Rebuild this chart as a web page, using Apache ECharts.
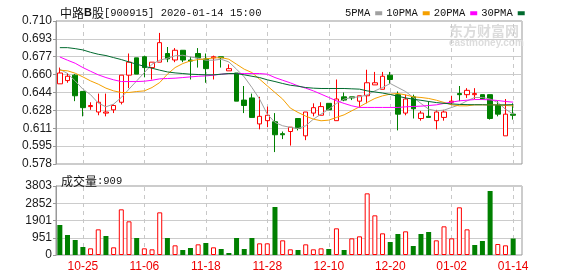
<!DOCTYPE html>
<html><head><meta charset="utf-8">
<script src="https://cdn.jsdelivr.net/npm/echarts@6/dist/echarts.min.js"></script>
<style>html,body{margin:0;padding:0;background:#fff}#c{width:578px;height:276px}</style>
</head><body><div id="c"></div>
<script>
const categories = ['10-22','10-23','10-24','10-25','10-28','10-29','10-30','10-31','11-01','11-04','11-05','11-06','11-07','11-08','11-11','11-12','11-13','11-14','11-15','11-18','11-19','11-20','11-21','11-22','11-25','11-26','11-27','11-28','11-29','12-02','12-03','12-04','12-05','12-06','12-09','12-10','12-11','12-12','12-13','12-16','12-17','12-18','12-19','12-20','12-23','12-24','12-25','12-26','12-27','12-30','12-31','01-02','01-03','01-06','01-07','01-08','01-09','01-10','01-13','01-14'];
const openP = [0.652,0.655,0.660,0.645,0.631,0.626,0.625,0.628,0.635,0.660,
0.676,0.677,0.667,0.672,0.680,0.674,0.683,0.674,0.680,0.675,
0.676,0.677,0.664,0.662,0.637,0.639,0.615,0.618,0.617,0.606,
0.608,0.620,0.604,0.625,0.623,0.634,0.618,0.640,0.640,0.636,
0.641,0.651,0.647,0.660,0.642,0.625,0.640,0.620,0.622,0.618,
0.621,0.635,0.643,0.642,0.642,0.642,0.642,0.632,0.604,0.624];
const closeP = [0.662,0.659,0.641,0.630,0.632,0.635,0.626,0.632,0.660,0.672,
0.661,0.667,0.672,0.690,0.675,0.683,0.674,0.673,0.676,0.666,
0.677,0.676,0.666,0.636,0.632,0.621,0.622,0.623,0.605,0.605,
0.612,0.611,0.626,0.630,0.631,0.628,0.638,0.637,0.639,0.641,
0.653,0.653,0.659,0.656,0.624,0.638,0.629,0.625,0.621,0.626,
0.626,0.636,0.642,0.646,0.643,0.638,0.620,0.624,0.624,0.623];
const lowP = [0.652,0.653,0.636,0.622,0.628,0.623,0.622,0.625,0.633,0.648,
0.661,0.658,0.656,0.672,0.672,0.672,0.672,0.656,0.667,0.653,
0.656,0.667,0.664,0.636,0.625,0.621,0.610,0.612,0.589,0.601,
0.595,0.609,0.600,0.622,0.623,0.628,0.618,0.636,0.637,0.630,
0.634,0.651,0.647,0.652,0.609,0.623,0.620,0.618,0.621,0.610,
0.618,0.633,0.636,0.639,0.638,0.638,0.619,0.622,0.604,0.619];
const highP = [0.667,0.662,0.661,0.645,0.635,0.643,0.643,0.633,0.660,0.680,
0.676,0.678,0.672,0.699,0.686,0.685,0.683,0.677,0.685,0.680,
0.678,0.677,0.670,0.662,0.650,0.643,0.640,0.631,0.625,0.608,
0.612,0.620,0.626,0.634,0.635,0.634,0.656,0.644,0.640,0.641,
0.665,0.663,0.663,0.663,0.645,0.642,0.642,0.627,0.636,0.628,
0.628,0.641,0.650,0.648,0.648,0.642,0.642,0.636,0.638,0.634];
const prevClose = 0.664;
const volume = [1653,1102,827,441,367,1414,1047,422,2517,1855,
937,367,312,2351,937,533,276,386,588,661,
422,331,110,937,331,937,643,643,2645,808,
312,276,588,312,367,331,1470,276,918,1029,
3398,2186,1194,716,1157,1304,496,1157,1268,808,
1580,918,2627,1414,551,772,3527,606,533,909];
const ma5 = [0.6655,0.6615,0.6547,0.6471,0.6420,0.6342,0.6308,0.6333,0.6394,0.6471,
0.6547,0.6624,0.6701,0.6738,0.6756,0.6778,0.6784,0.6768,0.6756,0.6738,
0.6738,0.6747,0.6722,0.6655,0.6584,0.6486,0.6379,0.6240,0.6164,0.6133,
0.6118,0.6108,0.6133,0.6194,0.6240,0.6286,0.6339,0.6379,0.6394,0.6400,
0.6418,0.6455,0.6486,0.6523,0.6486,0.6449,0.6394,0.6339,0.6286,0.6271,
0.6277,0.6302,0.6326,0.6363,0.6394,0.6394,0.6379,0.6348,0.6286,0.6240];
const ma10 = [0.6646,0.6640,0.6618,0.6584,0.6547,0.6517,0.6480,0.6455,0.6440,0.6440,
0.6449,0.6455,0.6486,0.6532,0.6609,0.6670,0.6707,0.6732,0.6744,0.6750,
0.6759,0.6762,0.6747,0.6701,0.6655,0.6624,0.6563,0.6501,0.6440,0.6379,
0.6296,0.6256,0.6222,0.6194,0.6179,0.6185,0.6210,0.6234,0.6271,0.6308,
0.6348,0.6385,0.6409,0.6425,0.6431,0.6418,0.6400,0.6394,0.6385,0.6369,
0.6348,0.6326,0.6317,0.6317,0.6326,0.6326,0.6326,0.6326,0.6320,0.6317];
const ma20 = [0.6768,0.6738,0.6710,0.6670,0.6636,0.6603,0.6578,0.6557,0.6541,0.6541,
0.6541,0.6544,0.6553,0.6566,0.6569,0.6572,0.6578,0.6584,0.6590,0.6593,
0.6600,0.6609,0.6615,0.6615,0.6615,0.6615,0.6615,0.6609,0.6578,0.6553,
0.6529,0.6501,0.6480,0.6455,0.6425,0.6394,0.6363,0.6339,0.6317,0.6302,
0.6302,0.6302,0.6302,0.6302,0.6302,0.6308,0.6311,0.6314,0.6320,0.6326,
0.6339,0.6351,0.6363,0.6369,0.6375,0.6375,0.6372,0.6366,0.6357,0.6351];
const ma30 = [0.6854,0.6854,0.6845,0.6833,0.6811,0.6793,0.6781,0.6762,0.6744,0.6722,
0.6701,0.6682,0.6664,0.6646,0.6630,0.6621,0.6615,0.6609,0.6606,0.6603,
0.6603,0.6609,0.6615,0.6615,0.6603,0.6590,0.6578,0.6557,0.6541,0.6523,
0.6507,0.6498,0.6486,0.6480,0.6477,0.6477,0.6477,0.6477,0.6474,0.6471,
0.6455,0.6445,0.6435,0.6422,0.6405,0.6390,0.6378,0.6368,0.6357,0.6347,
0.6340,0.6335,0.6330,0.6328,0.6327,0.6327,0.6325,0.6325,0.6326,0.6328];
const priceTicks = [0.578,0.5945,0.611,0.6275,0.644,0.6605,0.677,0.6935,0.710];
const priceTickLabels = ['0.578','0.595','0.611','0.628','0.644','0.660','0.677','0.693','0.710'];
const volTicks = [0,950.75,1901.5,2852.25,3803];
const volTickLabels = ['0','951','1901','2852','3803'];
const dateTickLabels = ['10-25','11-06','11-18','11-28','12-10','12-20','01-02','01-14'];
const maNames = ['5PMA','10PMA','20PMA','30PMA'];

const RED = '#ff0000', GREEN = '#008000';
const maColors = ['#a0a0a0','#f5a000','#ff00ff','#006a2e'];
const maData = [ma5, ma10, ma20, ma30];
function lab(ticks, labels){
  return v => { const i = ticks.findIndex(t => Math.abs(t - v) < 1e-6); return i >= 0 ? labels[i] : ''; };
}
const vMarkLine = {
  silent: true, z: 1, symbol: ['none','none'], label: {show: false},
  lineStyle: {type: [4,4], color: '#c8c8c8', width: 1},
  data: dateTickLabels.map(d => ({xAxis: d}))
};
const candleData = categories.map((_, i) => [openP[i], closeP[i], lowP[i], highP[i]]);
const volData = volume.map((v, i) => {
  const pc = i === 0 ? prevClose : closeP[i - 1];
  const up = closeP[i] >= pc;
  return {value: v, itemStyle: up ? {color: '#ffffff', borderColor: RED, borderWidth: 1} : {color: GREEN, borderColor: GREEN, borderWidth: 0}};
});
const monoFont = '"Liberation Mono", "Noto Sans CJK SC", monospace';
const cjkFont = '"Noto Sans CJK SC", sans-serif';
const chart = echarts.init(document.getElementById('c'), null, {renderer: 'canvas'});
chart.setOption({
  animation: false,
  backgroundColor: '#ffffff',
  title: [
    {left: 55, top: 2, text: '{c|中路}{b|B}{c|股}{a|[900915] 2020-01-14 15:00}',
     textStyle: {fontWeight: 'normal', rich: {
       c: {fontFamily: cjkFont, fontSize: 12, fontWeight: 'normal', color: '#111'},
       b: {fontFamily: 'Liberation Sans', fontWeight: 'bold', fontSize: 11, color: '#111'},
       a: {fontFamily: monoFont, fontSize: 10.5, fontWeight: 'normal', color: '#111'}}}},
    {left: 56, top: 170, text: '{c|成交量}{a|:' + volume[volume.length - 1] + '}',
     textStyle: {fontWeight: 'normal', rich: {
       c: {fontFamily: cjkFont, fontSize: 12, fontWeight: 'normal', color: '#111'},
       a: {fontFamily: monoFont, fontSize: 10.5, fontWeight: 'normal', color: '#111'}}}}
  ],
  legend: {
    data: maNames, left: 340, top: 3, align: 'right', icon: 'rect',
    itemWidth: 7, itemHeight: 4, itemGap: 4, selectedMode: false,
    textStyle: {fontFamily: monoFont, fontSize: 10.5, color: '#111', padding: [0,0,0,0]}
  },
  graphic: [
    {type: 'text', left: 449, top: 24, z: 0, silent: true, style: {text: '东方财富网', fill: '#dcdcdc', font: 'bold 14px "Noto Sans CJK SC"'}},
    {type: 'text', left: 449, top: 38, z: 0, silent: true, style: {text: 'eastmoney.com', fill: '#dcdcdc', font: 'bold 10px "Liberation Sans"'}}
  ],
  grid: [
    {left: 56, top: 21, width: 466, height: 143, show: true, borderColor: '#999', borderWidth: 1, backgroundColor: 'transparent'},
    {left: 56, top: 21, width: 461, height: 143},
    {left: 56, top: 186, width: 466, height: 69, show: true, borderColor: '#999', borderWidth: 1, backgroundColor: 'transparent'},
    {left: 56, top: 186, width: 461, height: 69}
  ],
  xAxis: [
    {gridIndex: 0, type: 'category', data: categories, show: false},
    {gridIndex: 1, type: 'category', data: categories, axisLine: {show: false}, axisTick: {show: false}, axisLabel: {show: false}, splitLine: {show: false}},
    {gridIndex: 2, type: 'category', data: categories, show: false},
    {gridIndex: 3, type: 'category', data: categories, axisLine: {show: false}, axisTick: {show: false}, splitLine: {show: false},
     axisLabel: {show: true, interval: (idx, val) => dateTickLabels.indexOf(val) >= 0, color: '#ee0000', fontFamily: 'Liberation Sans', fontSize: 12, margin: 6, hideOverlap: false}}
  ],
  yAxis: [
    {gridIndex: 0, type: 'value', min: 0.578, max: 0.710, scale: true,
     axisLine: {show: true, lineStyle: {color: '#999'}},
     axisTick: {show: true, length: 3, lineStyle: {color: '#999'}, customValues: priceTicks},
     axisLabel: {customValues: priceTicks, formatter: lab(priceTicks, priceTickLabels), color: '#1a1a1a', fontFamily: 'Liberation Sans', fontSize: 12, margin: 4},
     splitLine: {show: true, lineStyle: {color: '#cccccc', width: 1}}},
    {gridIndex: 1, type: 'value', min: 0.578, max: 0.710, scale: true, show: false, splitLine: {show: false}},
    {gridIndex: 2, type: 'value', min: 0, max: 3803,
     axisLine: {show: true, lineStyle: {color: '#999'}},
     axisTick: {show: true, length: 3, lineStyle: {color: '#999'}, customValues: volTicks},
     axisLabel: {customValues: volTicks, formatter: lab(volTicks, volTickLabels), color: '#1a1a1a', fontFamily: 'Liberation Sans', fontSize: 12, margin: 4},
     splitLine: {show: true, lineStyle: {color: '#cccccc', width: 1}}},
    {gridIndex: 3, type: 'value', min: 0, max: 3803, show: false, splitLine: {show: false}}
  ],
  series: [
    {type: 'candlestick', name: 'K', xAxisIndex: 1, yAxisIndex: 1, data: candleData, barWidth: 5, z: 3,
     itemStyle: {color: '#ffffff', color0: GREEN, borderColor: RED, borderColor0: GREEN, borderWidth: 1},
     markLine: vMarkLine},
    ...maNames.map((n, k) => ({type: 'line', name: n, xAxisIndex: 1, yAxisIndex: 1, data: maData[k], symbol: 'none', z: 4,
      lineStyle: {width: 1, color: maColors[k]}, itemStyle: {color: maColors[k]}})),
    {type: 'bar', name: 'VOL', xAxisIndex: 3, yAxisIndex: 3, data: volData, barWidth: 5, z: 3, markLine: vMarkLine}
  ]
});
</script></body></html>
